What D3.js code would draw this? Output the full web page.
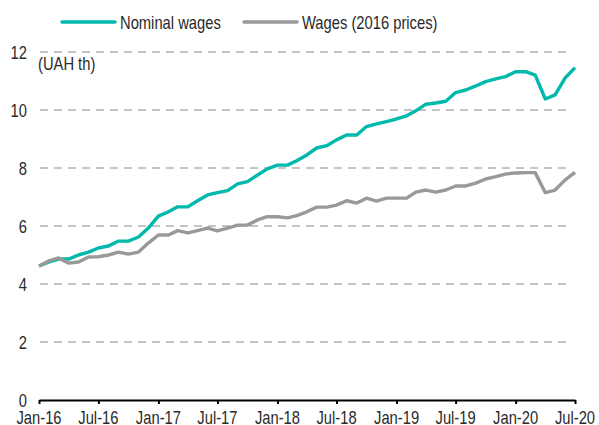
<!DOCTYPE html>
<html><head><meta charset="utf-8">
<script src="https://cdn.jsdelivr.net/npm/d3@7"></script>
<style>
html,body{margin:0;padding:0;background:#fff;}
svg text{font-family:"Liberation Sans",Arial,sans-serif;fill:#2a2a2a;}
</style></head>
<body><svg id="c" width="599" height="425"></svg>
<script>
const nominal = [4.62,4.76,4.86,4.86,5.0,5.1,5.24,5.31,5.48,5.48,5.62,5.93,
 6.34,6.49,6.66,6.66,6.87,7.07,7.15,7.22,7.45,7.53,7.76,7.97,
 8.1,8.1,8.25,8.45,8.69,8.77,8.97,9.14,9.14,9.43,9.52,9.6,
 9.69,9.8,9.97,10.2,10.24,10.3,10.6,10.69,10.83,10.98,11.07,11.15,
 11.32,11.32,11.2,10.38,10.52,11.11,11.46];
const real = [4.62,4.8,4.9,4.72,4.76,4.93,4.94,5.0,5.1,5.03,5.1,5.41,
 5.69,5.69,5.84,5.76,5.84,5.93,5.83,5.93,6.03,6.03,6.21,6.32,
 6.32,6.28,6.36,6.49,6.65,6.65,6.72,6.87,6.79,6.96,6.86,6.96,
 6.96,6.96,7.17,7.24,7.17,7.24,7.38,7.38,7.48,7.62,7.7,7.79,
 7.83,7.84,7.84,7.15,7.24,7.59,7.85];
const yTicks = [0,2,4,6,8,10,12];
const xTickLabels = ["Jan-16","Jul-16","Jan-17","Jul-17","Jan-18","Jul-18","Jan-19","Jul-19","Jan-20","Jul-20"];
const seriesNames = ["Nominal wages","Wages (2016 prices)"];
const colors = ["#00b9ac","#999999"];

const FS = 18, SX = 0.82;
const svg = d3.select("#c");
const x0 = 39, x1 = 575, yTop = 52, yBot = 400;
const dates = nominal.map((_,i)=>new Date(2016, i, 1));
const x = d3.scaleTime().domain([dates[0], dates[dates.length-1]]).range([x0,x1]);
const y = d3.scaleLinear().domain([0,12]).range([yBot,yTop]);

function ntext(g, px, py, str, anchor){
  return g.append("text").attr("transform",`translate(${px},${py}) scale(${SX},1)`)
    .attr("text-anchor",anchor||"start").attr("font-size",FS).text(str);
}

// gridlines
svg.append("g").selectAll("line").data(yTicks.filter(d=>d>0)).join("line")
  .attr("x1",x0+1).attr("x2",572).attr("y1",d=>y(d)).attr("y2",d=>y(d))
  .attr("stroke","#c4c4c4").attr("stroke-width",2).attr("stroke-dasharray","8,6");

// y labels
const gy = svg.append("g");
yTicks.forEach(d=>ntext(gy, 27, y(d)+7, String(d), "end"));
ntext(svg, 38, 70, "(UAH th)");

// x axis
const tickDates = xTickLabels.map((_,i)=>new Date(2016, i*6, 1));
const xAxis = d3.axisBottom(x).tickValues(tickDates).tickSize(4).tickSizeOuter(0).tickFormat("");
const gx = svg.append("g").attr("transform",`translate(0,${yBot})`).call(xAxis);
gx.select(".domain").attr("stroke","#000").attr("stroke-width",2);
gx.selectAll(".tick line").attr("stroke","#000").attr("stroke-width",2);
const gxl = svg.append("g");
tickDates.forEach((d,i)=>ntext(gxl, x(d), yBot+24, xTickLabels[i], "middle"));

// lines
const line = d3.line().x((d,i)=>x(dates[i])).y(d=>y(d));
svg.append("path").datum(nominal).attr("d",line).attr("fill","none")
  .attr("stroke",colors[0]).attr("stroke-width",3.4).attr("stroke-linejoin","round");
svg.append("path").datum(real).attr("d",line).attr("fill","none")
  .attr("stroke",colors[1]).attr("stroke-width",3.4).attr("stroke-linejoin","round");

// legend
const leg = [{x:62,name:seriesNames[0],c:colors[0]},{x:244,name:seriesNames[1],c:colors[1]}];
const lg = svg.append("g");
leg.forEach(l=>{
  lg.append("line").attr("x1",l.x).attr("x2",l.x+53).attr("y1",22).attr("y2",22)
    .attr("stroke",l.c).attr("stroke-width",3.4).attr("stroke-linecap","round");
  ntext(lg, l.x+58, 29, l.name);
});
</script></body></html>
